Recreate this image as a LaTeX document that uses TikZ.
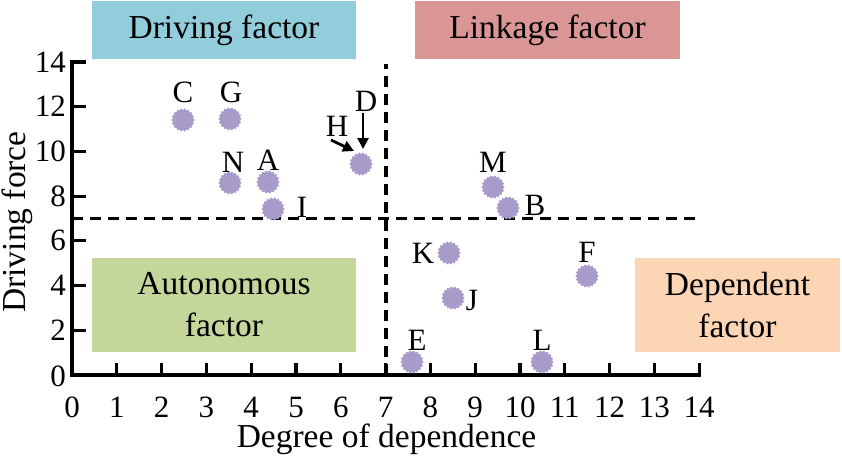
\documentclass[tikz,border=0pt]{standalone}
\usepackage{fontspec}
\setmainfont{Liberation Serif}
\usetikzlibrary{shapes.geometric,arrows.meta}
\definecolor{dotc}{HTML}{A99BC9}
\definecolor{bluebox}{HTML}{92CDDC}
\definecolor{redbox}{HTML}{DA9694}
\definecolor{greenbox}{HTML}{C4D79B}
\definecolor{orangebox}{HTML}{FCD5B4}
\tikzset{
  pdot/.style={star, star points=18, star point ratio=0.85, minimum size=20pt, inner sep=0pt, fill=dotc, draw=none},
  plab/.style={font=\fontsize{31}{36}\selectfont, inner sep=0pt},
  tlab/.style={font=\fontsize{31}{36}\selectfont, inner sep=0pt},
  qbox/.style={minimum width=264pt, minimum height=58pt, inner sep=0pt, draw=none, align=center, font=\fontsize{33.5}{42}\selectfont},
  axisline/.style={line width=3.6pt},
  tick/.style={line width=3.2pt},
  divline/.style={line width=3.2pt, dash pattern=on 11pt off 7pt},
  ptr/.style={line width=2.8pt, -{Triangle[length=11pt,width=11pt]}}
}
\begin{document}
\begin{tikzpicture}[x=1pt,y=-1pt]
\useasboundingbox (0,0) rectangle (842,458);
% quadrant boxes
\node[qbox, fill=bluebox, minimum width=264pt, minimum height=58pt] (bdrive) at (224,30) {Driving factor};
\node[qbox, fill=redbox, minimum width=265pt, minimum height=58pt] (blink) at (547.5,30) {Linkage factor};
\node[qbox, fill=greenbox, minimum width=264pt, minimum height=94pt] (bauto) at (224,305) {Autonomous\\factor};
\node[qbox, fill=orangebox, minimum width=205pt, minimum height=94pt] (bdep) at (737.5,305) {Dependent\\factor};
% axes
\coordinate (o) at (72,375);
\coordinate (ytop) at (72,62);
\coordinate (xend) at (699,375);
\draw[axisline, line cap=rect] (ytop) -- (o) -- (xend);
\foreach \v in {2,4,...,14} {
  \draw[tick] (72,{375-22.36*\v}) -- ++(14,0);
  \node[tlab, anchor=east] (yl\v) at (66,{375-22.36*\v}) {\v};
}
\node[tlab, anchor=east] (yl0) at (66,376) {0};
\foreach \v in {1,...,14} {
  \draw[tick] ({72+44.8*\v},375) -- ++(0,-12);
}
\foreach \v in {0,...,14} {
  \node[tlab] (xl\v) at ({72+44.8*\v},407) {\v};
}
\node[tlab, font=\fontsize{33.5}{40}\selectfont] (xt) at (386.5,439) {Degree of dependence};
\node[tlab, font=\fontsize{33.5}{40}\selectfont, rotate=90] (yt) at (17,222) {Driving force};
% threshold lines
\coordinate (hl1) at (72,218.5);
\coordinate (hl2) at (700,218.5);
\coordinate (vl1) at (386,375);
\coordinate (vl2) at (386,64);
\draw[divline] (hl1) -- (hl2);
\draw[divline] (vl1) -- (vl2);
% points
\node[pdot] (C) at (183,120) {};
\node[pdot] (G) at (230,119) {};
\node[pdot] (N) at (230,183) {};
\node[pdot] (A) at (268,182) {};
\node[pdot] (I) at (273,209) {};
\node[pdot] (DH) at (361,164) {};
\node[pdot] (M) at (493,187) {};
\node[pdot] (B) at (508,208) {};
\node[pdot] (K) at (449,253) {};
\node[pdot] (F) at (587,276) {};
\node[pdot] (J) at (453,298) {};
\node[pdot] (E) at (412,362) {};
\node[pdot] (L) at (542,362) {};
% labels
\node[plab] (lC) at (183,92) {C};
\node[plab] (lG) at (231,92) {G};
\node[plab] (lN) at (233,162) {N};
\node[plab] (lA) at (268,160) {A};
\node[plab] (lI) at (302,207) {I};
\node[plab] (lM) at (493,162) {M};
\node[plab] (lB) at (535,205) {B};
\node[plab] (lK) at (423,253) {K};
\node[plab] (lF) at (587,252) {F};
\node[plab] (lJ) at (472,300) {J};
\node[plab] (lE) at (417,340) {E};
\node[plab] (lL) at (542,340) {L};
\node[plab] (lD) at (366,101) {D};
\node[plab] (lH) at (337,126) {H};
% pointer arrows
\coordinate (hs) at (331,140);
\coordinate (he) at (354,151);
\coordinate (ds) at (363,113);
\coordinate (de) at (363,149);
\draw[ptr] (hs) -- (he);
\draw[ptr] (ds) -- (de);
\end{tikzpicture}
\end{document}
